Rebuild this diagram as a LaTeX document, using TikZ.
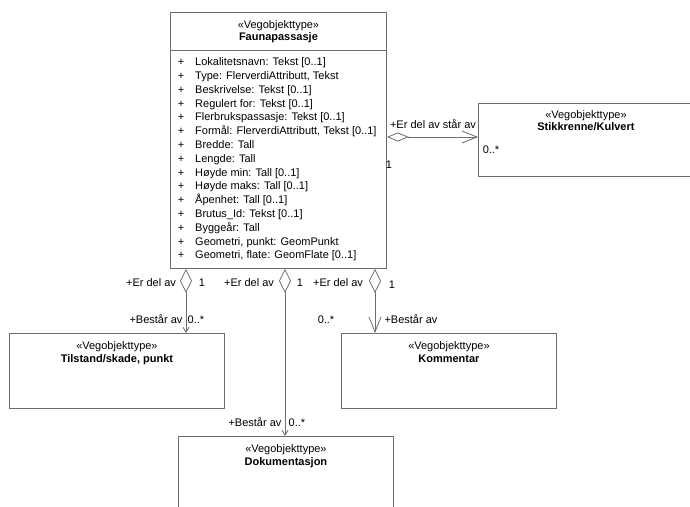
\documentclass[tikz,border=0pt]{standalone}
\usepackage{fontspec}
\setmainfont{Liberation Sans}
\usetikzlibrary{arrows.meta,positioning}
\definecolor{umlline}{RGB}{110,110,110}

\tikzset{
    classbox/.style={draw=umlline, line width=0.9pt, anchor=north west, inner sep=0pt},
    lbl/.style={inner sep=0pt, text height=8pt, text depth=2.5pt},
    aggr/.style={draw=umlline, line width=0.8pt},
    diam/.tip={Diamond[open, length=24pt, width=12pt]},
    bigv/.tip={Straight Barb[length=15pt, width=12pt]},
    smallv/.tip={Straight Barb[length=5pt, width=6pt]},
}

\begin{document}
\begin{tikzpicture}[x=1pt, y=-1pt, font=\fontsize{11}{13}\selectfont]
\useasboundingbox (0,0) rectangle (690,506);

% main class
\node[classbox, minimum width=216, minimum height=256] (fauna) at (170,12) {};
\node[lbl] (fauna-st) at ([yshift=-13.7pt]fauna.north) {«Vegobjekttype»};
\node[lbl, font=\fontsize{11}{13}\selectfont\bfseries] (fauna-nm) at ([yshift=-26pt]fauna.north) {Faunapassasje};
\draw[umlline, line width=0.9pt] ([yshift=-38pt]fauna.north west) -- ([yshift=-38pt]fauna.north east);

\foreach \attr [count=\i] in {Lokalitetsnavn: Tekst [0..1], {Type: FlerverdiAttributt, Tekst},
    Beskrivelse: Tekst [0..1], Regulert for: Tekst [0..1], Flerbrukspassasje: Tekst [0..1],
    {Formål: FlerverdiAttributt, Tekst [0..1]}, Bredde: Tall, Lengde: Tall,
    Høyde min: Tall [0..1], Høyde maks: Tall [0..1], Åpenhet: Tall [0..1],
    Brutus\_Id: Tekst [0..1], Byggeår: Tall, {Geometri, punkt: GeomPunkt},
    {Geometri, flate: GeomFlate [0..1]}}
{
    \node[lbl] (plus-\i) at (181, {49.2+13.8*\i}) {+};
    \node[lbl, anchor=west] (attr-\i) at (195, {49.2+13.8*\i}) {\attr};
}

% other classes
\node[classbox, minimum width=215, minimum height=73] (stikk) at (478,103) {};
\node[lbl] (stikk-st) at ([yshift=-12.5pt]stikk.north) {«Vegobjekttype»};
\node[lbl, font=\fontsize{11}{13}\selectfont\bfseries] (stikk-nm) at ([yshift=-24.5pt]stikk.north) {Stikkrenne/Kulvert};

\node[classbox, minimum width=215, minimum height=75] (tilstand) at (9,333) {};
\node[lbl] (tilstand-st) at ([yshift=-13.5pt]tilstand.north) {«Vegobjekttype»};
\node[lbl, font=\fontsize{11}{13}\selectfont\bfseries] (tilstand-nm) at ([yshift=-27pt]tilstand.north) {Tilstand/skade, punkt};

\node[classbox, minimum width=215, minimum height=75] (kommentar) at (341,333) {};
\node[lbl] (kommentar-st) at ([yshift=-13.5pt]kommentar.north) {«Vegobjekttype»};
\node[lbl, font=\fontsize{11}{13}\selectfont\bfseries] (kommentar-nm) at ([yshift=-27pt]kommentar.north) {Kommentar};

\node[classbox, minimum width=215, minimum height=80] (dokum) at (178,436) {};
\node[lbl] (dokum-st) at ([yshift=-13.5pt]dokum.north) {«Vegobjekttype»};
\node[lbl, font=\fontsize{11}{13}\selectfont\bfseries] (dokum-nm) at ([yshift=-27pt]dokum.north) {Dokumentasjon};

% aggregations
\draw[aggr, {diam[width=9pt, length=22pt]}-bigv] ([yshift=-125pt]fauna.north east) -- ([yshift=-34pt]stikk.north west);
\draw[aggr, diam-smallv] ([xshift=16pt]fauna.south west) -- ([xshift=177pt]tilstand.north west);
\draw[aggr, diam-smallv] ([xshift=115pt]fauna.south west) -- ([xshift=107pt]dokum.north west);
\draw[aggr, diam-bigv] ([xshift=205pt]fauna.south west) -- ([xshift=34pt]kommentar.north west);

% role names and multiplicities
\node[lbl] (r-role) at (433,126) {+Er del av står av};
\node[lbl] (r-one) at (389,166) {1};
\node[lbl] (r-many) at (491,151) {0..*};

\node[lbl] (l-role) at (151,284) {+Er del av};
\node[lbl] (l-one) at (202,284) {1};
\node[lbl] (l-role2) at (156,321) {+Består av};
\node[lbl] (l-many) at (196,321) {0..*};

\node[lbl] (m-role) at (249,284) {+Er del av};
\node[lbl] (m-one) at (300,284) {1};
\node[lbl] (m-role2) at (255,424) {+Består av};
\node[lbl] (m-many) at (297,424) {0..*};

\node[lbl] (k-role) at (338,284) {+Er del av};
\node[lbl] (k-one) at (392,286) {1};
\node[lbl] (k-many) at (326,321) {0..*};
\node[lbl] (k-role2) at (411,321) {+Består av};

\end{tikzpicture}
\end{document}
